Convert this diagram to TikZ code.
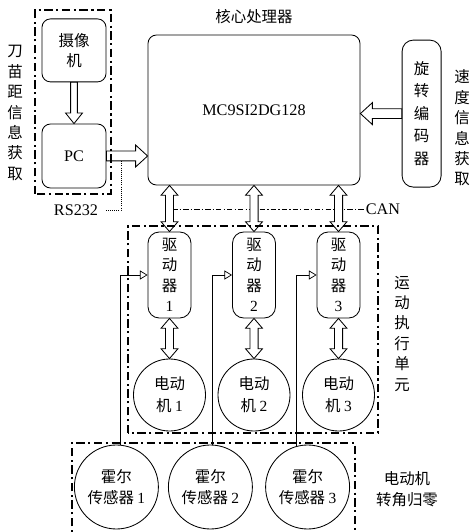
\documentclass[tikz,border=0pt]{standalone}
\usepackage{fontspec}
\setmainfont{Liberation Serif}
\newfontfamily\cjk{Noto Sans CJK SC}
\usetikzlibrary{arrows.meta,calc,positioning}
\newcommand{\zhfont}{\fontsize{11}{14.5}\selectfont\cjk}
\newcommand{\latfont}{\fontsize{11.5}{14}\selectfont\rmfamily}
\newcommand{\nr}[1]{{\rmfamily #1}}
\tikzset{
  unit/.style={rectangle,rounded corners=6pt,draw,line width=0.6pt,
    align=center,inner sep=2pt,font=\zhfont},
  drvbox/.style={unit,rounded corners=8pt,minimum width=1.075cm,
    minimum height=2.15cm},
  motor/.style={circle,draw,line width=0.6pt,align=center,inner sep=0pt,
    minimum size=1.8cm,font=\fontsize{11}{15.5}\selectfont\cjk},
  hall/.style={motor,minimum size=2.1cm,font=\fontsize{11}{15}\selectfont\cjk},
  zhlab/.style={align=center,inner sep=1pt,font=\zhfont},
  latlab/.style={inner sep=1pt,font=\latfont},
  % dash-dot frames round the groups of units
  groupbox/.style={line width=1.6pt,dash pattern=on 6pt off 2.5pt on 1.5pt off 2.5pt},
  canbus/.style={line width=0.4pt,dash pattern=on 4pt off 1.5pt on 0.8pt off 1.5pt},
  % hollow block arrows: half shaft width, half head width, head length
  fat/.style n args={3}{draw,fill=white,line width=0.6pt,to path={
    let \p1=(\tikztostart), \p2=(\tikztotarget),
        \n1={atan2(\y2-\y1,\x2-\x1)}, \n2={veclen(\x2-\x1,\y2-\y1)} in
    ($(\p1)+(\n1+90:#1)$) -- ($(\p1)+(\n1:{\n2-#3})+(\n1+90:#1)$)
    -- ($(\p1)+(\n1:{\n2-#3})+(\n1+90:#2)$) -- (\p2)
    -- ($(\p1)+(\n1:{\n2-#3})+(\n1-90:#2)$)
    -- ($(\p1)+(\n1:{\n2-#3})+(\n1-90:#1)$)
    -- ($(\p1)+(\n1-90:#1)$) -- cycle}},
  fatboth/.style n args={3}{draw,fill=white,line width=0.6pt,to path={
    let \p1=(\tikztostart), \p2=(\tikztotarget),
        \n1={atan2(\y2-\y1,\x2-\x1)}, \n2={veclen(\x2-\x1,\y2-\y1)} in
    (\p1) -- ($(\p1)+(\n1:#3)+(\n1+90:#2)$) -- ($(\p1)+(\n1:#3)+(\n1+90:#1)$)
    -- ($(\p1)+(\n1:{\n2-#3})+(\n1+90:#1)$) -- ($(\p1)+(\n1:{\n2-#3})+(\n1+90:#2)$)
    -- (\p2)
    -- ($(\p1)+(\n1:{\n2-#3})+(\n1-90:#2)$) -- ($(\p1)+(\n1:{\n2-#3})+(\n1-90:#1)$)
    -- ($(\p1)+(\n1:#3)+(\n1-90:#1)$) -- ($(\p1)+(\n1:#3)+(\n1-90:#2)$) -- cycle}},
  sig/.style={line width=0.5pt,-{Triangle[open,length=5.5pt,width=6.5pt]}}
}

\begin{document}
\begin{tikzpicture}
  \useasboundingbox (0,0) rectangle (11.825,13.3);
  % camera and PC
  \node[unit,minimum width=1.6cm,minimum height=1.575cm] (cam) at (1.85,12.04) {摄像\\机};
  \node[unit,minimum width=1.6cm,minimum height=1.6cm,font=\latfont] (pc) at (1.85,9.4) {PC};
  \node[zhlab] (leftlab) at (0.375,10.475) {刀\\苗\\距\\信\\息\\获\\取};
  % core processor and encoder
  \node[unit,minimum width=5.3cm,minimum height=3.75cm,font=\latfont] (cpu) at (6.35,10.55) {MC9SI2DG128};
  \node[zhlab,above=0.22cm of cpu] (cputitle) {核心处理器};
  \node[unit,rounded corners=8pt,minimum width=0.975cm,minimum height=3.675cm,
    font=\fontsize{11}{16}\selectfont\cjk] (enc) at (10.54,10.46) {旋\\转\\编\\码\\器};
  \node[zhlab] (speedlab) at (11.55,10.1) {速\\度\\信\\息\\获\\取};
  % serial line and CAN bus
  \node[latlab] (rs) at (1.9,8.05) {RS232};
  \coordinate (rstap) at (3.025,9.27);
  \draw[densely dotted,line width=0.5pt] (rstap) |- ([xshift=4pt]rs.east);
  \node[latlab] (can) at (9.575,8.075) {CAN};
  \coordinate (canstart) at (4.3,8.075);
  \draw[canbus] (canstart) -- (can.west);
  \draw[fat={2.4pt}{6pt}{7.5pt}] (cam.south) to (pc.north);
  \draw[fat={3.5pt}{7.8pt}{8.5pt}] (pc.east) to (pc.east -| cpu.west);
  \draw[fat={3.5pt}{7.8pt}{8.5pt}] (enc.west) to (enc.west -| cpu.east);
  \draw[groupbox] (0.875,8.45) rectangle (2.775,13.05);
  % motion units
  \node[drvbox] (drv1) at (4.2375,6.425) {驱\\动\\器\\\nr{1}};
  \node[drvbox] (drv2) at (6.35,6.425) {驱\\动\\器\\\nr{2}};
  \node[drvbox] (drv3) at (8.4625,6.425) {驱\\动\\器\\\nr{3}};
  \node[motor] (mot1) at (4.2375,3.425) {电动\\机 \nr{1}};
  \node[motor] (mot2) at (6.35,3.425) {电动\\机 \nr{2}};
  \node[motor] (mot3) at (8.4625,3.425) {电动\\机 \nr{3}};
  \draw[fatboth={2.9pt}{6pt}{7pt}] (drv1 |- cpu.south) to (drv1.north);
  \draw[fatboth={2.9pt}{6pt}{7pt}] (drv2 |- cpu.south) to (drv2.north);
  \draw[fatboth={2.9pt}{6pt}{7pt}] (drv3 |- cpu.south) to (drv3.north);
  \draw[fatboth={2.9pt}{6pt}{7pt}] (drv1.south) to (mot1.north);
  \draw[fatboth={2.9pt}{6pt}{7pt}] (drv2.south) to (mot2.north);
  \draw[fatboth={2.9pt}{6pt}{7pt}] (drv3.south) to (mot3.north);
  \draw[groupbox] (3.2,2.475) rectangle (9.45,7.65);
  \node[zhlab] (motionlab) at (10.05,4.96) {运\\动\\执\\行\\单\\元};
  % hall sensors
  \node[hall] (hall1) at (2.91,1.125) {霍尔\\传感器 \nr{1}};
  \node[hall] (hall2) at (5.26,1.125) {霍尔\\传感器 \nr{2}};
  \node[hall] (hall3) at (7.69,1.125) {霍尔\\传感器 \nr{3}};
  \draw[sig] (hall1.85) |- (drv1.west);
  \draw[sig] (hall2.87) |- (drv2.west);
  \draw[sig] (hall3.105) |- (drv3.west);
  \draw[groupbox] (1.8,-0.3) |- (8.875,2.225) -- (8.875,-0.3);
  \node[zhlab] (halllab) at (10.175,1.075) {电动机\\转角归零};
\end{tikzpicture}
\end{document}
